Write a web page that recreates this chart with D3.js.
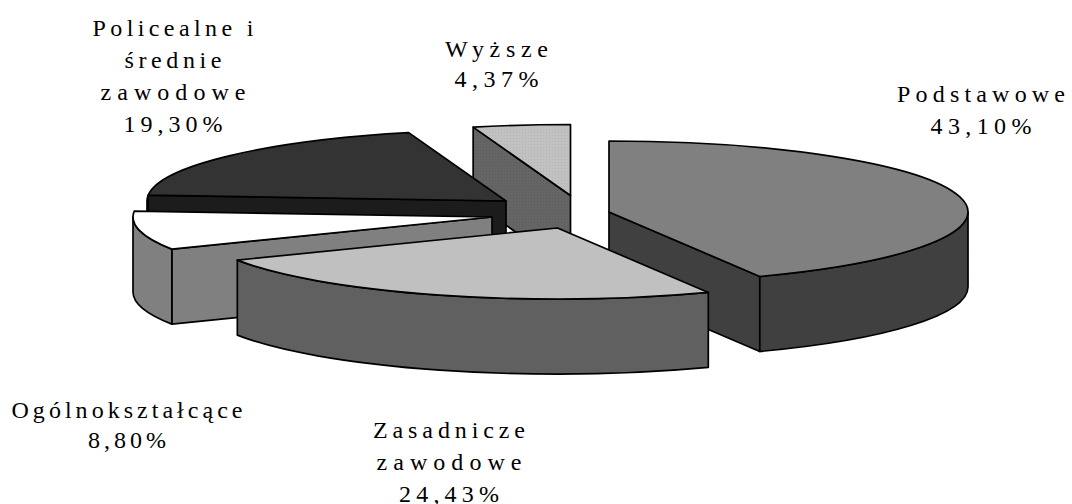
<!DOCTYPE html>
<html>
<head>
<meta charset="utf-8">
<script src="https://cdn.jsdelivr.net/npm/d3@7"></script>
<style>
  html, body { margin: 0; padding: 0; background: #fff; }
  text { font-family: "Liberation Serif", serif; font-size: 24px; fill: #000; }
</style>
</head>
<body>
<svg id="chart" width="1072" height="504"></svg>
<script>
const categories = ["Podstawowe", "Zasadnicze zawodowe", "Ogólnokształcące", "Policealne i średnie zawodowe", "Wyższe"];
const shares = [43.10, 24.43, 8.80, 19.30, 4.37];
const valueLabels = ["43,10%", "24,43%", "8,80%", "19,30%", "4,37%"];

const width = 1072;
const height = 504;
const rx = 359;
const ry = 71;
const depth = 75; // thickness of the pie

// exploded position of each slice tip, same order as categories
const tips = [[609, 212], [557.5, 228], [492, 217], [506, 201], [570.5, 195.5]];
const topFill = ["#808080", "#c0c0c0", "#ffffff", "#333333", "url(#dotsLight)"];
const sideFill = ["#404040", "#606060", "#808080", "#1c1c1c", "url(#dotsDark)"];

// label lines, with the width each line is spread over in the reference
const labelLines = [["Podstawowe"], ["Zasadnicze", "zawodowe"], ["Ogólnokształcące"], ["Policealne i", "średnie", "zawodowe"], ["Wyższe"]];
const lineWidths = [[168, 101], [152, 145, 100], [231, 78], [161, 97, 145, 99], [103, 84]];
const labelPos = [[981, 102], [449, 438], [127, 418], [173, 36], [496.5, 57]];
const lineStep = [32, 32, 30, 32, 30];

const svg = d3.select("#chart");

const defs = svg.append("defs");
function dots(id, base, dot) {
  const p = defs.append("pattern").attr("id", id)
    .attr("width", 3).attr("height", 3).attr("patternUnits", "userSpaceOnUse");
  p.append("rect").attr("width", 3).attr("height", 3).attr("fill", base);
  p.append("rect").attr("width", 1).attr("height", 1).attr("fill", dot);
}
dots("dotsLight", "#c1c1c1", "#b4b4b4");
dots("dotsDark", "#656565", "#5c5c5c");

const pie = d3.pie().sort(null).value(d => d);
const arcs = pie(shares);

// angle is clockwise from 12 o'clock, squashed into an ellipse
function rim(i, a, drop = 0) {
  return [tips[i][0] + rx * Math.sin(a), tips[i][1] - ry * Math.cos(a) + drop];
}

function topPath(i) {
  const a = arcs[i];
  const p0 = rim(i, a.startAngle), p1 = rim(i, a.endAngle);
  const large = a.endAngle - a.startAngle > Math.PI ? 1 : 0;
  return `M${tips[i]}L${p0}A${rx},${ry} 0 ${large} 1 ${p1}Z`;
}

// outer wall between two angles
function wallPath(i, a0, a1) {
  const p0 = rim(i, a0), p1 = rim(i, a1);
  const q0 = rim(i, a0, depth), q1 = rim(i, a1, depth);
  return `M${p0}A${rx},${ry} 0 0 1 ${p1}L${q1}A${rx},${ry} 0 0 0 ${q0}Z`;
}

// flat cut face from the tip to the rim
function facePath(i, a) {
  const t = tips[i];
  const p = rim(i, a), q = rim(i, a, depth);
  return `M${t}L${p}L${q}L${t[0]},${t[1] + depth}Z`;
}

const half = Math.PI / 2;
// which side pieces can be seen, per slice
const faces = [
  { face: arcs[0].endAngle, wall: [half, arcs[0].endAngle] },
  { wall: [arcs[1].startAngle, arcs[1].endAngle] },
  { face: arcs[2].startAngle, wall: [arcs[2].startAngle, 3 * half] },
  { face: arcs[3].startAngle, wall: [3 * half, arcs[3].startAngle] },
  { face: arcs[4].startAngle }
];

// back to front
const drawOrder = [4, 3, 0, 2, 1];

const slices = svg.append("g").attr("stroke", "#000").attr("stroke-width", 1.7).attr("stroke-linejoin", "round");

drawOrder.forEach(i => {
  const g = slices.append("g");
  const f = faces[i];
  if (f.face !== undefined) g.append("path").attr("d", facePath(i, f.face)).attr("fill", sideFill[i]);
  if (f.wall) g.append("path").attr("d", wallPath(i, f.wall[0], f.wall[1])).attr("fill", sideFill[i]);
  g.append("path").attr("d", topPath(i)).attr("fill", topFill[i]);
});

// labels
categories.forEach((c, i) => {
  labelLines[i].concat(valueLabels[i]).forEach((line, k) => {
    svg.append("text")
      .attr("text-anchor", "middle")
      .attr("x", labelPos[i][0])
      .attr("y", labelPos[i][1] + k * lineStep[i])
      .attr("textLength", lineWidths[i][k])
      .attr("lengthAdjust", "spacing")
      .text(line);
  });
});
</script>
</body>
</html>
